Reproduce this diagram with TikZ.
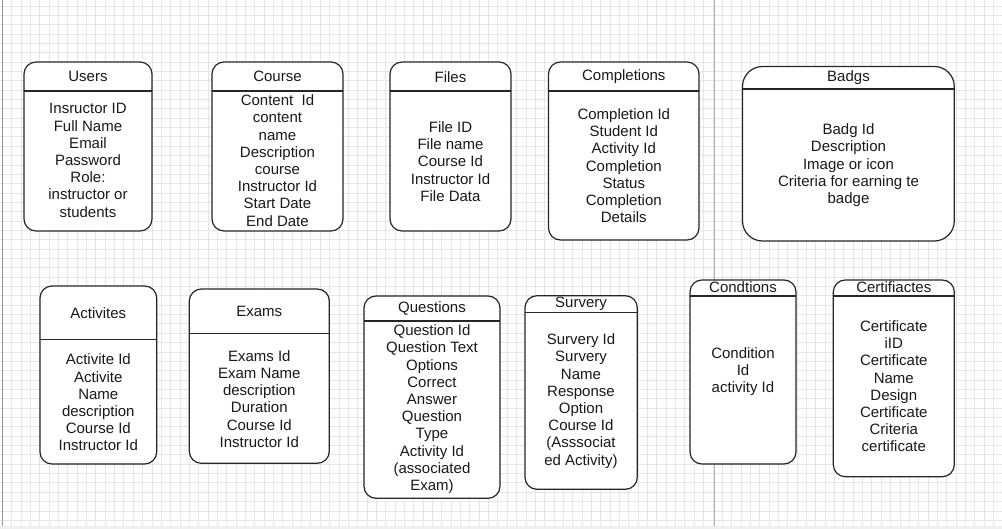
\documentclass[tikz,border=0pt]{standalone}
\usepackage{fontspec}
\setmainfont{Liberation Sans}

\begin{document}
\begin{tikzpicture}[x=1pt,y=-1pt,
	entity/.style={draw=black!85, line width=1.2pt, fill=white, rounded corners=12pt},
	headline/.style={draw=black!85, line width=1.2pt},
	title/.style={font=\fontsize{15}{17.2}\selectfont, text=black!90, inner sep=0pt, yshift=-0.8pt},
	attrs/.style={align=center, font=\fontsize{15}{17.2}\selectfont, text=black!90, inner sep=0pt, yshift=-2pt},
	gridline/.style={draw=black!10, line width=0.8pt}]
	\useasboundingbox (0,0) rectangle (1002,529);
	\fill[white] (0,0) rectangle (1002,529);

	% background grid
	\foreach \gx in {0,...,106} \draw[gridline] ({2.3+9.35*\gx},0) -- ++(0,526);
	\foreach \gy in {0,...,55} \draw[gridline] (0,{6+9.35*\gy}) -- ++(1002,0);
	\fill[black!6] (0,526) rectangle (1002,529);
	\draw[black!40, line width=1.2pt] (2.3,0) -- (2.3,526);
	\draw[black!30, line width=1pt] (714.3,0) -- (714.3,526);

	% Users
	\draw[entity] (24,62) rectangle (152,231);
	\draw[headline] (24,91) -- (152,91);
	\node[title] (users) at (88,76) {Users};
	\node[attrs] (usersAttr) at (88,158.5) {Insructor ID\\Full Name\\Email\\Password\\Role:\\instructor or\\students};

	% Course
	\draw[entity] (212,62) rectangle (343,231);
	\draw[headline] (212,91) -- (343,91);
	\node[title] (course) at (277.5,76) {Course};
	\node[attrs] (courseAttr) at (277.5,158.5) {Content\ \ Id\\content\\name\\Description\\course\\Instructor Id\\Start Date\\End Date};

	% Files
	\draw[entity] (390,62) rectangle (511,231);
	\draw[headline] (390,91) -- (511,91);
	\node[title] (files) at (450.5,76) {Files};
	\node[attrs] (filesAttr) at (450.5,159.5) {File ID\\File name\\Course Id\\Instructor Id\\File Data};

	% Completions
	\draw[entity] (548.5,62) rectangle (699,240);
	\draw[headline] (548.5,91) -- (699,91);
	\node[title] (completions) at (623.8,75.7) {Completions};
	\node[attrs] (completionsAttr) at (623.8,163.7) {Completion Id\\Student Id\\Activity Id\\Completion\\Status\\Completion\\Details};

	% Badgs
	\draw[entity, rounded corners=20pt] (742.5,66.5) rectangle (954.3,241);
	\draw[headline] (742.5,89) -- (954.3,89);
	\node[title] (badgs) at (848.5,77.3) {Badgs};
	\node[attrs] (badgsAttr) at (848.5,163.3) {Badg Id\\Description\\Image or icon\\Criteria for earning te\\badge};

	% Activites
	\draw[entity] (40,286) rectangle (156.7,464);
	\draw[headline] (40,339.3) -- (156.7,339.3);
	\node[title] (activites) at (98.3,312.7) {Activites};
	\node[attrs] (activitesAttr) at (98.3,400.5) {Activite Id\\Activite\\Name\\description\\Course Id\\Instructor Id};

	% Exams
	\draw[entity] (189.3,289) rectangle (329.3,463.3);
	\draw[headline] (189.3,333.3) -- (329.3,333.3);
	\node[title] (exams) at (259.3,310.7) {Exams};
	\node[attrs] (examsAttr) at (259.3,397) {Exams Id\\Exam Name\\description\\Duration\\Course Id\\Instructor Id};

	% Questions
	\draw[entity] (364,296) rectangle (500,498.3);
	\draw[headline] (364,321) -- (500,321);
	\node[title] (questions) at (432,307.7) {Questions};
	\node[attrs] (questionsAttr) at (432,407.2) {Question Id\\Question Text\\Options\\Correct\\Answer\\Question\\Type\\Activity Id\\(associated\\Exam)};

	% Survery
	\draw[entity] (525,295.7) rectangle (637.3,489.3);
	\draw[headline] (525,312.3) -- (637.3,312.3);
	\node[title] (survery) at (581,303.3) {Survery};
	\node[attrs] (surveryAttr) at (581,399) {Survery Id\\Survery\\Name\\Response\\Option\\Course Id\\(Asssociat\\ed Activity)};

	% Condtions
	\draw[entity] (690,280) rectangle (796,464);
	\draw[headline] (690,296) -- (796,296);
	\node[title] (condtions) at (743,286.7) {Condtions};
	\node[attrs] (condtionsAttr) at (743,369.7) {Condition\\Id\\activity Id};

	% Certifiactes
	\draw[entity] (833.3,280) rectangle (954.3,476.7);
	\draw[headline] (833.3,296) -- (954.3,296);
	\node[title] (certifiactes) at (893.8,286.7) {Certifiactes};
	\node[attrs] (certifiactesAttr) at (893.8,384.3) {Certificate\\iID\\Certificate\\Name\\Design\\Certificate\\Criteria\\certificate};
\end{tikzpicture}
\end{document}
